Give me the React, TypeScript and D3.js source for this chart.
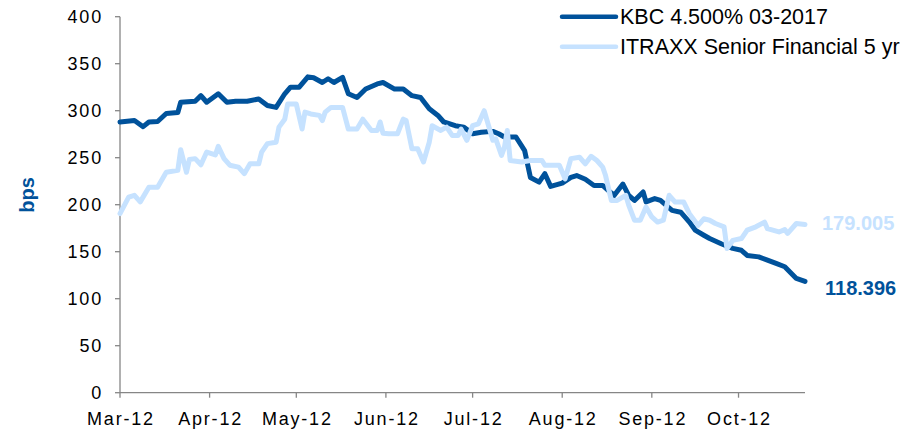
import React from 'react'
import * as d3 from 'd3'

// days counted from 1 Mar 2012
const kbcDays = [0, 5, 8, 10, 13, 16, 20, 21, 26, 28, 30, 34, 37, 40, 44, 48, 51, 54, 57, 59, 62, 65, 67, 70, 72, 74, 77, 79, 82, 85, 89, 91, 95, 98, 101, 104, 107, 110, 112, 116, 119, 122, 125, 129, 131, 133, 137, 140, 142, 145, 147, 149, 153, 156, 158, 161, 164, 167, 169, 171, 174, 176, 178, 181, 182, 185, 187, 191, 194, 197, 199, 202, 204, 208, 212, 215, 217, 221, 224, 227, 230, 234, 237]
const kbcValues = [288, 289.5, 283, 288, 288.5, 297, 298, 309, 310, 316, 309, 318, 309, 310, 310, 312.5, 305.5, 303.5, 318, 325, 325, 336, 335, 330, 334, 330, 335.5, 318, 314, 323, 328.5, 330, 323, 323, 316, 314, 302, 295, 288, 284, 282.5, 275.5, 277, 278, 275.5, 272, 272, 257.5, 229, 224, 233, 219.5, 223, 229, 231, 227, 220.5, 220.5, 215, 210, 222, 210, 204.5, 213.5, 203, 206.5, 204.5, 194, 192, 181.5, 173, 167.5, 164, 158.5, 153.5, 151.5, 146, 144.5, 141, 137.5, 134, 121.5, 118.396]

const itraxxDays = [0, 3, 5, 7, 10, 13, 16, 20, 21, 23, 24, 26, 28, 30, 33, 34, 36, 38, 41, 43, 45, 48, 49, 51, 54, 55, 57, 58, 61, 63, 64, 66, 69, 70, 71, 73, 77, 79, 82, 84, 87, 89, 90, 91, 93, 96, 98, 99, 101, 103, 105, 107, 108, 111, 113, 115, 117, 118, 120, 122, 124, 126, 129, 130, 132, 133, 134, 135, 139, 142, 146, 147, 152, 154, 156, 159, 161, 163, 165, 167, 168, 170, 172, 175, 176, 178, 180, 182, 184, 186, 188, 190, 192, 195, 197, 200, 202, 204, 206, 209, 210, 212, 215, 217, 220, 223, 224, 228, 230, 231, 234, 237]
const itraxxValues = [190.5, 208, 210, 203, 218.5, 218.5, 234.5, 236.5, 258.5, 234.5, 248, 249, 242.5, 256, 253, 262, 249, 242, 240, 233, 243.5, 243.5, 256, 265, 266.5, 282.5, 291, 307, 307, 280.5, 298.5, 296.5, 295, 289.5, 298.5, 303.5, 303.5, 280.5, 280.5, 291, 279, 279, 288, 276, 275.5, 275.5, 291, 289.5, 259.5, 259.5, 245.5, 266.5, 284, 279, 282.5, 273.5, 273.5, 280.5, 268.5, 284, 286, 300, 268.5, 270, 252.5, 261, 279, 247, 245.5, 247, 247, 242, 242, 227.5, 249, 250.5, 243.5, 251.5, 247, 240, 231, 204.5, 204.5, 210, 199.5, 183.5, 183.5, 197.5, 187, 181.5, 183.5, 210, 203, 203, 190.5, 178, 185, 183.5, 180, 176.5, 153.5, 162, 164, 173, 176.5, 181.5, 174.5, 171, 173.5, 169.5, 180, 179.005]

const seriesNames = ['KBC 4.500% 03-2017', 'ITRAXX Senior Financial 5 yr']
const seriesColors = ['#00529B', '#C6E2FF']
const yTicks = [0, 50, 100, 150, 200, 250, 300, 350, 400]

const startDate = new Date(2012, 2, 1)
const endDate = new Date(2012, 9, 24)
const toDates = (days: number[]) => days.map(d => d3.timeDay.offset(startDate, d))

export default function App() {
  const W = 923
  const H = 433
  const left = 120
  const right = 805
  const top = 16.7
  const bottom = 392.7
  const font = 'Arial, "Liberation Sans", sans-serif'
  const axisColor = '#868686'

  const x = d3.scaleTime().domain([startDate, endDate]).range([left, right])
  const y = d3.scaleLinear().domain([0, 400]).range([bottom, top])

  const series = [
    { dates: toDates(kbcDays), values: kbcValues },
    { dates: toDates(itraxxDays), values: itraxxValues },
  ]

  const line = d3.line<[Date, number]>()
    .x(d => x(d[0]))
    .y(d => y(d[1]))

  const monthTicks = d3.timeMonth.range(startDate, endDate)
  const fmt = d3.timeFormat('%b-%y')

  return (
    <svg width={W} height={H} style={{ position: 'absolute', left: 0, top: 0, background: '#fff' }}
      fontFamily={font}>
      {/* y axis */}
      <line x1={left} x2={left} y1={top} y2={bottom} stroke={axisColor} strokeWidth={1.3} />
      {yTicks.map(t => (
        <g key={t}>
          <line x1={left - 5} x2={left} y1={y(t)} y2={y(t)} stroke={axisColor} strokeWidth={1.3} />
          <text x={103} y={y(t)} dy="0.35em" textAnchor="end" fontSize={18} letterSpacing={1.8}
            fill="#000">{t}</text>
        </g>
      ))}
      <text transform={`translate(34,195) rotate(-90)`} textAnchor="middle" fontSize={20}
        fontWeight="bold" fill={seriesColors[0]}>bps</text>

      {/* x axis */}
      <line x1={left} x2={right} y1={bottom} y2={bottom} stroke={axisColor} strokeWidth={1.3} />
      {monthTicks.map(m => (
        <g key={m.toISOString()}>
          <line x1={x(m)} x2={x(m)} y1={bottom} y2={bottom + 5} stroke={axisColor} strokeWidth={1.3} />
          <text x={x(m) + 1} y={425} textAnchor="middle" fontSize={18} letterSpacing={1.8}
            fill="#000">{fmt(m)}</text>
        </g>
      ))}

      {/* lines */}
      {series.map((s, i) => (
        <path key={i}
          d={line(s.dates.map((d, j) => [d, s.values[j]] as [Date, number])) || ''}
          fill="none" stroke={seriesColors[i]} strokeWidth={5}
          strokeLinejoin="round" strokeLinecap="round" />
      ))}

      {/* end labels */}
      <text x={822} y={230} fontSize={20} fontWeight="bold" fill={seriesColors[1]}>
        {itraxxValues[itraxxValues.length - 1].toFixed(3)}
      </text>
      <text x={825} y={295} fontSize={20} fontWeight="bold" fill={seriesColors[0]}>
        {kbcValues[kbcValues.length - 1].toFixed(3)}
      </text>

      {/* legend */}
      {seriesNames.map((n, i) => (
        <g key={n}>
          <line x1={562} x2={616} y1={16.7 + i * 30} y2={16.7 + i * 30} stroke={seriesColors[i]}
            strokeWidth={4.5} strokeLinecap="round" />
          <text x={620} y={24 + i * 29.5} fontSize={21.5} fill="#000">{n}</text>
        </g>
      ))}
    </svg>
  )
}
